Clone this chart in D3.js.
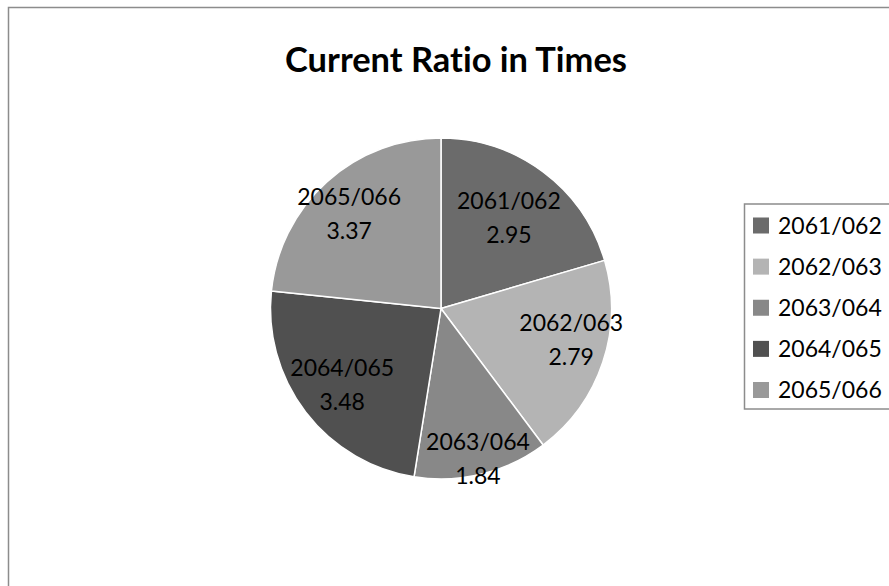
<!DOCTYPE html>
<html>
<head>
<meta charset="utf-8">
<script src="https://cdn.jsdelivr.net/npm/d3@7/dist/d3.min.js"></script>
<style>
  html, body { margin: 0; padding: 0; background: #fff; }
  svg { display: block; }
  text { font-family: Lato, "Open Sans", sans-serif; fill: #000; font-variant-ligatures: none; font-feature-settings: "liga" 0, "clig" 0; }
</style>
</head>
<body>
<svg id="chart" width="889" height="586"></svg>
<script>
// ---- data ----
const title = "Current Ratio in Times";
const categories = ["2061/062", "2062/063", "2063/064", "2064/065", "2065/066"];
const values = [2.95, 2.79, 1.84, 3.48, 3.37];
const colors = ["#6b6b6b", "#b4b4b4", "#888888", "#505050", "#999999"];

// ---- layout ----
const cx = 441, cy = 308.5, R = 170.5;
const labelRadius = [0.665, 0.785, 0.905, 0.73, 0.775];
const labelShift = [0, -5, 0, 0, -2]; // degrees
const fontSize = 23;
const lineGap = 34;

const svg = d3.select("#chart");

// chart border (extends beyond the visible area on right/bottom)
svg.append("rect")
  .attr("x", 8.5).attr("y", 7.5)
  .attr("width", 920).attr("height", 620)
  .attr("fill", "#fff")
  .attr("stroke", "#8c8c8c").attr("stroke-width", 1.5);

// title
const t = svg.append("text")
  .attr("x", 456).attr("y", 72)
  .attr("text-anchor", "middle")
  .attr("font-weight", "bold")
  .attr("font-size", 32)
  .text(title);
const tw = t.node().getComputedTextLength();
t.attr("font-size", 32 * 342 / tw);

// pie
const color = d3.scaleOrdinal().domain(categories).range(colors);
const pie = d3.pie().sort(null).value(d => d.v);
const data = categories.map((c, i) => ({ c, v: values[i], i }));
const arcs = pie(data);
const arc = d3.arc().innerRadius(0).outerRadius(R);

const g = svg.append("g").attr("transform", `translate(${cx},${cy})`);
g.selectAll("path.slice")
  .data(arcs)
  .join("path")
  .attr("class", "slice")
  .attr("d", arc)
  .attr("fill", d => color(d.data.c))
  .attr("stroke", "#fff")
  .attr("stroke-width", 1.5)
  .attr("stroke-linejoin", "round");

// labels
const lab = g.selectAll("g.lab")
  .data(arcs)
  .join("g")
  .attr("class", "lab")
  .attr("transform", d => {
    const a = (d.startAngle + d.endAngle) / 2 + labelShift[d.data.i] * Math.PI / 180;
    const r = labelRadius[d.data.i] * R;
    return `translate(${r * Math.sin(a)},${-r * Math.cos(a)})`;
  });
lab.append("text")
  .attr("text-anchor", "middle")
  .attr("font-size", fontSize)
  .attr("y", -lineGap / 2 + fontSize * 0.36)
  .text(d => d.data.c);
lab.append("text")
  .attr("text-anchor", "middle")
  .attr("font-size", fontSize)
  .attr("y", lineGap / 2 + fontSize * 0.36)
  .text(d => d3.format(".2f")(d.data.v));

// legend
const lx = 744.5, ly = 204, lh = 205;
svg.append("rect")
  .attr("x", lx).attr("y", ly)
  .attr("width", 200).attr("height", lh)
  .attr("fill", "#fff")
  .attr("stroke", "#8c8c8c").attr("stroke-width", 1.5);

const yL = d3.scalePoint().domain(categories).range([225.5, 390]);
const li = svg.selectAll("g.leg")
  .data(categories)
  .join("g")
  .attr("class", "leg")
  .attr("transform", c => `translate(0,${yL(c)})`);
li.append("rect")
  .attr("x", 753).attr("y", -8)
  .attr("width", 16).attr("height", 16)
  .attr("fill", c => color(c));
li.append("text")
  .attr("x", 778).attr("y", 8)
  .attr("font-size", fontSize)
  .text(c => c);
</script>
</body>
</html>
